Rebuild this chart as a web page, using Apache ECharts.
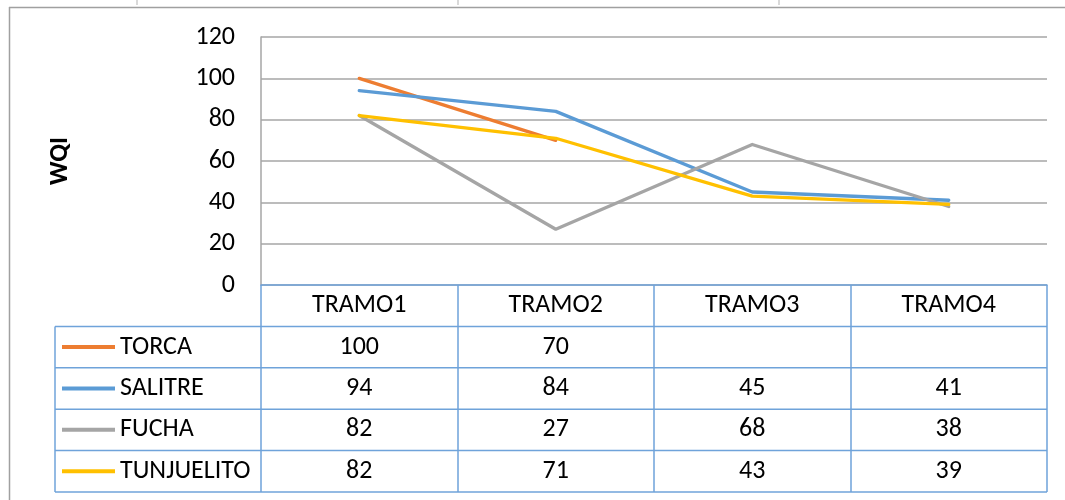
<!DOCTYPE html>
<html>
<head>
<meta charset="utf-8">
<script src="https://cdn.jsdelivr.net/npm/echarts@6/dist/echarts.min.js"></script>
<style>
  html, body { margin: 0; padding: 0; background: #fff; }
  #div1 { width: 1065px; height: 500px; }
</style>
</head>
<body>
<div id="div1"></div>
<script>
var tramos = ['TRAMO1', 'TRAMO2', 'TRAMO3', 'TRAMO4'];
var torca = [100, 70, null, null];
var salitre = [94, 84, 45, 41];
var fucha = [82, 27, 68, 38];
var tunjuelito = [82, 71, 43, 39];
var nombres = ['TORCA', 'SALITRE', 'FUCHA', 'TUNJUELITO'];
var colores = ['#ED7D31', '#5B9BD5', '#A5A5A5', '#FFC000'];
var yTicks = [0, 20, 40, 60, 80, 100, 120];

var fuente = 'Carlito, Lato, sans-serif';
var tam = 26;
var azul = '#6FA3DA';
var gris = '#A6A6A6';
var tablaTop = 285;
var filaH = 41.4;

var chart = echarts.init(document.getElementById('div1'));
var datos = [torca, salitre, fucha, tunjuelito];

var series = [];
for (var i = 0; i < nombres.length; i++) {
    series.push({
        name: nombres[i],
        type: 'line',
        data: datos[i],
        symbol: 'none',
        connectNulls: false,
        itemStyle: { color: colores[i] },
        lineStyle: { width: 3.3, color: colores[i], cap: 'round', join: 'round' }
    });
}

var option = {
    animation: false,
    grid: { left: 261, right: 18, top: 37, bottom: 215 },
    legend: {
        orient: 'vertical',
        left: 62,
        top: 347 - tam / 2,
        padding: 0,
        icon: 'rect',
        itemWidth: 53,
        itemHeight: 4,
        itemGap: filaH - tam,
        selectedMode: false,
        textStyle: { fontFamily: fuente, fontSize: tam, lineHeight: tam, color: '#000' },
        data: nombres
    },
    xAxis: {
        type: 'category',
        data: tramos,
        boundaryGap: true,
        axisLine: { lineStyle: { color: azul, width: 1.5 } },
        axisTick: { show: true, length: 207, lineStyle: { color: azul, width: 1.5 } },
        axisLabel: { fontFamily: fuente, fontSize: tam, color: '#000', margin: 20, verticalAlign: 'middle' }
    },
    yAxis: {
        type: 'value',
        min: yTicks[0],
        max: yTicks[yTicks.length - 1],
        interval: yTicks[1] - yTicks[0],
        name: 'WQI',
        nameLocation: 'middle',
        nameRotate: 90,
        nameGap: 188,
        nameTextStyle: { fontFamily: fuente, fontSize: 26, fontWeight: 'bold', color: '#000' },
        axisLine: { show: true, lineStyle: { color: gris, width: 1.5 } },
        axisTick: { show: false },
        axisLabel: { fontFamily: fuente, fontSize: tam, color: '#000', margin: 26 },
        splitLine: { lineStyle: { color: gris, width: 1.5 } }
    },
    series: series
};
chart.setOption(option);

// tabla de datos debajo del eje
var graficos = [];
var yFin = tablaTop + filaH * 5;
for (var r = 1; r <= 5; r++) {
    var yy = tablaTop + filaH * r;
    graficos.push({
        type: 'line', silent: true,
        shape: { x1: 55, y1: yy, x2: 1047, y2: yy },
        style: { stroke: azul, lineWidth: 1.5 }
    });
}
graficos.push({
    type: 'line', silent: true,
    shape: { x1: 55, y1: tablaTop + filaH, x2: 55, y2: yFin },
    style: { stroke: azul, lineWidth: 1.5 }
});
for (var s = 0; s < datos.length; s++) {
    var yc = tablaTop + filaH * (s + 1.5);
    for (var j = 0; j < tramos.length; j++) {
        if (datos[s][j] == null) continue;
        var xc = chart.convertToPixel({ xAxisIndex: 0 }, tramos[j]);
        graficos.push({
            type: 'text', silent: true,
            x: xc, y: yc,
            style: {
                text: String(datos[s][j]),
                fontFamily: fuente, fontSize: tam, fill: '#000',
                align: 'center', verticalAlign: 'middle'
            }
        });
    }
}

// marco exterior
graficos.push({ type: 'line', silent: true, shape: { x1: 9, y1: 7.5, x2: 1065, y2: 7.5 }, style: { stroke: '#A0A0A0', lineWidth: 1.5 } });
graficos.push({ type: 'line', silent: true, shape: { x1: 9.5, y1: 7, x2: 9.5, y2: 500 }, style: { stroke: '#A0A0A0', lineWidth: 1.5 } });
var marcas = [137, 458, 779];
for (var m = 0; m < marcas.length; m++) {
    graficos.push({ type: 'line', silent: true, shape: { x1: marcas[m], y1: 0, x2: marcas[m], y2: 5 }, style: { stroke: '#D9D9D9', lineWidth: 2 } });
}

chart.setOption({ graphic: graficos });
</script>
</body>
</html>
